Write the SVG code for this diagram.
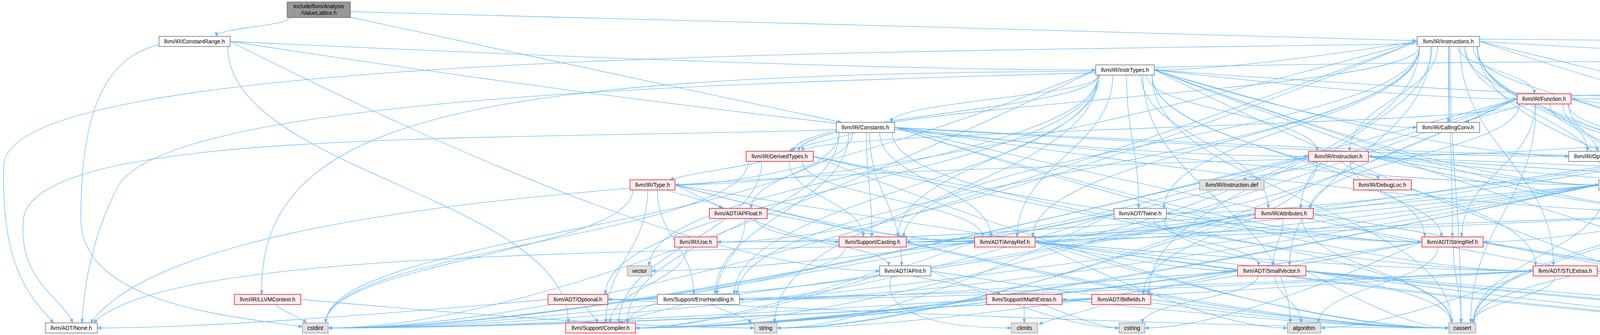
<svg xmlns="http://www.w3.org/2000/svg" width="6501" height="857" viewBox="0 0 6501 857">
<style>
.e path{fill:none;stroke:#63B8FF;stroke-width:1.3;marker-end:url(#ah)}
.nd rect{stroke-width:1.4}
.w rect{fill:#FFFFFF;stroke:#666666}
.r rect{fill:#FFF0F0;stroke:#FF0000}
.x rect{fill:#E0E0E0;stroke:#999999}
.root rect{fill:#999999;stroke:#666666}
text{font-family:"Liberation Sans",Arial,Helvetica,sans-serif;font-size:14px;text-anchor:middle;fill:#000000}
</style>
<defs>
<marker id="ah" markerWidth="11" markerHeight="8" refX="10" refY="4" orient="auto" markerUnits="userSpaceOnUse"><path d="M0,0 L10,4 L0,8 z" fill="#63B8FF" stroke="#63B8FF" stroke-width="1"/></marker>
</defs>
<rect x="0" y="0" width="6501" height="857" fill="#FFFFFF"/>
<g id="edges" class="e">
<path d="M740,45 C740,67 554,71 554,93"/>
<path d="M897,30 C1500,45 3000,85 3626,104"/>
<path d="M897,44 C1300,130 1800,240 2154,313"/>
<path d="M589,106 Q1753,693 2252,693"/>
<path d="M589,106 Q2140,179 2805,179"/>
<path d="M589,106 Q2522,400 3350,400"/>
<path d="M583,119 C583,437 1455,508 1455,826"/>
<path d="M407,114 C260,150 207,300 207,560 C207,780 600,810 774,836"/>
<path d="M3634,119 C3634,338 2644,387 2644,606"/>
<path d="M3634,119 C3634,404 2940,468 2940,753"/>
<path d="M3628,112 C2200,135 30,135 10,420 C0,700 90,770 137,826"/>
<path d="M3738,119 C3738,371 3977,428 3977,680"/>
<path d="M3663,119 C3663,371 3301,428 3301,680"/>
<path d="M3709,119 C3709,338 3718,387 3718,606"/>
<path d="M3634,119 C3634,305 2980,347 2980,533"/>
<path d="M3782,119 C3782,404 5161,468 5161,753"/>
<path d="M3788,100 C5000,110 6480,120 6492,300 C6500,600 6450,780 5891,836"/>
<path d="M3666,119 C3666,305 3330,347 3330,533"/>
<path d="M3788,106 Q4443,326 4723,326"/>
<path d="M3708,119 C3708,206 3708,226 3708,313"/>
<path d="M3788,106 Q5032,179 5565,179"/>
<path d="M3771,119 C3771,240 4276,266 4276,387"/>
<path d="M3634,119 C3634,240 2045,266 2045,387"/>
<path d="M3732,119 C3732,173 3928,186 3928,240"/>
<path d="M3628,106 Q3157,179 2955,179"/>
<path d="M3680,119 C3680,240 3455,266 3455,387"/>
<path d="M3748,119 C3748,240 4064,266 4064,387"/>
<path d="M3628,106 Q2298,473 1728,473"/>
<path d="M3628,106 Q2374,619 1836,619"/>
<path d="M3752,119 C3752,272 4106,307 4106,460"/>
<path d="M3781,119 C3781,305 4383,347 4383,533"/>
<path d="M3788,106 Q5254,473 5882,473"/>
<path d="M3634,119 C3634,338 2314,387 2314,606"/>
<path d="M3634,119 C3634,404 1887,468 1887,753"/>
<path d="M3712,119 C3712,437 3740,508 3740,826"/>
<path d="M3782,119 C3782,437 5411,508 5411,826"/>
<path d="M3628,106 Q1676,839 840,839"/>
<path d="M3782,119 C3782,437 4886,508 4886,826"/>
<path d="M2226,339 C2226,492 2308,527 2308,680"/>
<path d="M2183,339 C2183,426 1923,446 1923,533"/>
<path d="M2252,339 C2252,459 2537,486 2537,606"/>
<path d="M2141,332 C1200,360 90,330 60,560 C45,720 160,760 186,826"/>
<path d="M2290,326 Q3435,693 3925,693"/>
<path d="M2290,326 Q3235,619 3640,619"/>
<path d="M2290,326 Q3674,400 4267,400"/>
<path d="M2190,339 C2150,355 2050,370 2020,387"/>
<path d="M2290,326 Q3498,400 4016,400"/>
<path d="M2290,326 Q3552,473 4093,473"/>
<path d="M2290,326 Q3751,546 4377,546"/>
<path d="M2218,339 C2218,459 2232,486 2232,606"/>
<path d="M2148,339 C2148,558 1606,607 1606,826"/>
<path d="M2173,339 C2173,525 1831,567 1831,753"/>
<path d="M2284,339 C2284,558 3716,607 3716,826"/>
<path d="M2290,326 Q4470,839 5404,839"/>
<path d="M2148,339 C2148,558 834,607 834,826"/>
<path d="M2849,192 C2849,378 2604,420 2604,606"/>
<path d="M2805,186 C1800,215 420,250 300,480 C230,620 215,740 210,826"/>
<path d="M2811,192 C2811,444 1550,501 1550,753"/>
<path d="M2949,192 C2949,412 3931,460 3931,680"/>
<path d="M2955,179 Q3990,253 4433,253"/>
<path d="M2949,192 C2949,378 3647,420 3647,606"/>
<path d="M2884,192 C2884,345 2915,380 2915,533"/>
<path d="M2955,172 C4500,140 6420,150 6444,320 C6460,600 6400,790 5891,834"/>
<path d="M2921,192 C2921,345 3247,380 3247,533"/>
<path d="M2955,179 Q3425,326 3627,326"/>
<path d="M2814,192 C2814,246 2282,259 2282,313"/>
<path d="M2811,192 C2811,280 2032,299 2032,387"/>
<path d="M2955,179 Q3605,253 3884,253"/>
<path d="M2935,192 C2935,280 3372,299 3372,387"/>
<path d="M2805,182 C1200,190 660,300 670,753"/>
<path d="M2955,179 Q3698,400 4016,400"/>
<path d="M2805,179 Q2051,473 1728,473"/>
<path d="M2955,179 Q3752,473 4093,473"/>
<path d="M2955,179 Q3950,546 4377,546"/>
<path d="M2815,192 C2815,378 2299,420 2299,606"/>
<path d="M2811,192 C2811,444 1880,501 1880,753"/>
<path d="M2926,192 C2926,477 3303,541 3303,826"/>
<path d="M2949,192 C2949,477 3716,541 3716,826"/>
<path d="M2955,179 Q4669,839 5404,839"/>
<path d="M2805,179 Q1430,839 840,839"/>
<path d="M2955,179 Q4302,839 4879,839"/>
<path d="M2811,192 C2811,477 1983,541 1983,826"/>
<path d="M2811,192 C2811,412 1662,460 1662,680"/>
<path d="M5581,192 C5581,444 5267,501 5267,753"/>
<path d="M5638,192 C5638,477 5778,541 5778,826"/>
<path d="M5565,179 Q5083,326 4877,326"/>
<path d="M5565,179 Q4485,253 4022,253"/>
<path d="M5565,179 Q4817,546 4497,546"/>
<path d="M5565,179 Q3294,619 2320,619"/>
<path d="M5571,192 C5571,477 3772,541 3772,826"/>
<path d="M5602,192 C5602,477 5458,541 5458,826"/>
<path d="M5571,192 C5571,477 4944,541 4944,826"/>
<path d="M4014,266 C4014,353 4505,373 4505,460"/>
<path d="M4022,246 C5000,200 6380,170 6394,350 C6410,620 6350,800 5891,832"/>
<path d="M3930,266 C3930,419 3742,453 3742,606"/>
<path d="M3884,253 Q3255,546 2986,546"/>
<path d="M3890,266 C3890,386 3355,413 3355,533"/>
<path d="M4022,253 Q4513,326 4723,326"/>
<path d="M3915,266 C3870,280 3790,295 3750,313"/>
<path d="M3890,266 C3890,320 2055,333 2055,387"/>
<path d="M3968,266 C3968,320 4089,333 4089,387"/>
<path d="M4022,253 Q4688,473 4974,473"/>
<path d="M4001,266 C4001,386 4389,413 4389,533"/>
<path d="M3884,253 Q2789,619 2320,619"/>
<path d="M3884,253 Q2304,839 1627,839"/>
<path d="M3932,266 C3932,518 3765,574 3765,826"/>
<path d="M4016,266 C4016,518 5411,574 5411,826"/>
<path d="M3884,253 Q1753,839 840,839"/>
<path d="M3884,253 Q2558,839 1989,839"/>
<path d="M4586,266 C4586,485 5175,534 5175,753"/>
<path d="M4555,266 C4555,518 4886,574 4886,826"/>
<path d="M4723,326 Q3507,546 2986,546"/>
<path d="M4777,339 C4777,393 4589,406 4589,460"/>
<path d="M4843,339 C4843,525 5185,567 5185,753"/>
<path d="M4877,330 C5500,300 6330,280 6344,450 C6360,650 6300,810 5891,830"/>
<path d="M4723,326 Q3869,400 3503,400"/>
<path d="M4829,339 C4829,393 5059,406 5059,460"/>
<path d="M4764,339 C4764,426 4473,446 4473,533"/>
<path d="M4723,326 Q2556,839 1627,839"/>
<path d="M4729,339 C4729,558 3772,607 3772,826"/>
<path d="M4864,339 C4864,558 5411,607 5411,826"/>
<path d="M4812,339 C4812,558 4903,607 4903,826"/>
<path d="M2054,413 C2054,500 2515,519 2515,606"/>
<path d="M2082,400 Q3372,693 3925,693"/>
<path d="M2082,400 Q3173,619 3640,619"/>
<path d="M1950,413 C1880,430 1760,445 1715,460"/>
<path d="M2020,413 C2020,500 2210,519 2210,606"/>
<path d="M1950,413 C1950,599 1584,640 1584,826"/>
<path d="M2082,400 Q3221,839 3709,839"/>
<path d="M1916,413 C1916,599 834,640 834,826"/>
<path d="M3350,400 Q2860,619 2650,619"/>
<path d="M3371,413 C3371,566 2927,600 2927,753"/>
<path d="M3350,406 C2300,440 500,460 232,826"/>
<path d="M3456,413 C3456,500 3690,519 3690,606"/>
<path d="M3503,400 Q4190,473 4485,473"/>
<path d="M3438,413 C3438,434 3528,439 3528,460"/>
<path d="M3503,400 Q4533,473 4974,473"/>
<path d="M3503,400 Q3916,473 4093,473"/>
<path d="M3503,400 Q4115,546 4377,546"/>
<path d="M3503,400 Q5168,473 5882,473"/>
<path d="M3350,400 Q2629,619 2320,619"/>
<path d="M3350,400 Q1593,839 840,839"/>
<path d="M3400,413 C3380,430 3220,445 3181,460"/>
<path d="M4109,413 C4109,434 4145,439 4145,460"/>
<path d="M4320,413 C4320,434 4169,439 4169,460"/>
<path d="M4349,413 C4349,467 4427,479 4427,533"/>
<path d="M4267,400 Q2904,619 2320,619"/>
<path d="M1706,486 C1750,500 1820,515 1850,533"/>
<path d="M1728,473 Q2265,619 2495,619"/>
<path d="M1728,473 Q2022,619 2148,619"/>
<path d="M1658,486 C1658,639 1551,673 1551,826"/>
<path d="M1683,486 C1683,606 1776,633 1776,753"/>
<path d="M1728,473 Q3115,839 3709,839"/>
<path d="M1620,486 C1620,639 834,673 834,826"/>
<path d="M1728,473 Q3934,839 4879,839"/>
<path d="M4093,473 Q3083,619 2650,619"/>
<path d="M4207,473 Q4871,766 5155,766"/>
<path d="M4207,473 Q5253,839 5701,839"/>
<path d="M4093,473 Q2513,619 1836,619"/>
<path d="M4179,486 C4230,500 4370,515 4408,533"/>
<path d="M4093,473 Q2852,619 2320,619"/>
<path d="M4093,473 Q2367,839 1627,839"/>
<path d="M4093,473 Q2553,766 1893,766"/>
<path d="M4109,486 C4109,639 3772,673 3772,826"/>
<path d="M4207,473 Q5045,839 5404,839"/>
<path d="M4093,473 Q1816,839 840,839"/>
<path d="M4201,486 C4201,639 4886,673 4886,826"/>
<path d="M5123,486 C5123,639 5420,673 5420,826"/>
<path d="M5978,486 C5978,639 5469,673 5469,826"/>
<path d="M1933,559 C1933,613 2275,626 2275,680"/>
<path d="M1964,546 Q2336,619 2495,619"/>
<path d="M1908,559 C1908,646 1836,666 1836,753"/>
<path d="M2953,559 C2953,613 3222,626 3222,680"/>
<path d="M2986,546 Q3444,619 3640,619"/>
<path d="M2852,546 Q2181,766 1893,766"/>
<path d="M2980,559 C2980,679 3716,706 3716,826"/>
<path d="M2852,546 Q1444,839 840,839"/>
<path d="M2852,546 Q2248,839 1989,839"/>
<path d="M3213,546 Q2819,619 2650,619"/>
<path d="M3213,546 Q2053,766 1556,766"/>
<path d="M3285,559 C3285,613 3259,626 3259,680"/>
<path d="M3362,546 Q3557,619 3640,619"/>
<path d="M3334,559 C3334,679 3716,706 3716,826"/>
<path d="M3213,546 Q1552,839 840,839"/>
<path d="M3213,546 Q2356,839 1989,839"/>
<path d="M3362,546 Q4999,839 5701,839"/>
<path d="M4497,546 Q5340,839 5701,839"/>
<path d="M4377,546 Q3971,619 3797,619"/>
<path d="M4377,546 Q2598,619 1836,619"/>
<path d="M4377,546 Q2937,619 2320,619"/>
<path d="M4383,559 C4383,679 3772,706 3772,826"/>
<path d="M4485,559 C4485,679 4895,706 4895,826"/>
<path d="M1758,632 C1758,719 1562,739 1562,826"/>
<path d="M2164,632 C2164,719 1608,739 1608,826"/>
<path d="M2320,619 Q3292,839 3709,839"/>
<path d="M2495,622 C1600,650 420,640 240,826"/>
<path d="M2650,619 Q3013,693 3168,693"/>
<path d="M2650,619 Q3542,693 3925,693"/>
<path d="M2495,619 Q1887,839 1627,839"/>
<path d="M2650,619 Q3102,839 3296,839"/>
<path d="M2650,619 Q3391,839 3709,839"/>
<path d="M2650,619 Q4578,839 5404,839"/>
<path d="M2650,619 Q4210,839 4879,839"/>
<path d="M2495,619 Q1916,693 1668,693"/>
<path d="M3797,619 Q5130,839 5701,839"/>
<path d="M3640,619 Q2231,839 1627,839"/>
<path d="M3681,632 C3681,719 3375,739 3375,826"/>
<path d="M3721,632 C3721,719 3741,739 3741,826"/>
<path d="M3797,619 Q4922,839 5404,839"/>
<path d="M3640,619 Q3144,839 2931,839"/>
<path d="M3640,619 Q2484,839 1989,839"/>
<path d="M2252,693 Q1815,839 1627,839"/>
<path d="M2338,706 C2400,720 2520,735 2562,753"/>
<path d="M2383,693 Q3311,839 3709,839"/>
<path d="M2283,706 C2250,800 2400,839 2589,839"/>
<path d="M2383,693 Q2720,839 2865,839"/>
<path d="M3343,693 Q4994,839 5701,839"/>
<path d="M3168,693 Q2089,839 1627,839"/>
<path d="M3168,693 Q2276,766 1893,766"/>
<path d="M3168,693 Q2854,766 2719,766"/>
<path d="M3264,706 C3264,760 3331,772 3331,826"/>
<path d="M3343,693 Q3599,839 3709,839"/>
<path d="M3343,693 Q4786,839 5404,839"/>
<path d="M3220,706 C3220,760 2925,772 2925,826"/>
<path d="M3343,693 Q4418,839 4879,839"/>
<path d="M3925,693 Q2267,766 1556,766"/>
<path d="M4089,693 Q4835,766 5155,766"/>
<path d="M4089,693 Q5217,839 5701,839"/>
<path d="M3925,693 Q2503,766 1893,766"/>
<path d="M3925,693 Q3544,839 3381,839"/>
<path d="M3981,706 C3981,760 3770,772 3770,826"/>
<path d="M4089,693 Q5009,839 5404,839"/>
<path d="M3925,693 Q1766,839 840,839"/>
<path d="M4089,693 Q4642,839 4879,839"/>
<path d="M705,779 C720,795 765,810 785,826"/>
<path d="M770,766 Q1583,839 1931,839"/>
<path d="M1403,766 Q595,839 249,839"/>
<path d="M1497,779 C1505,800 1525,810 1530,826"/>
<path d="M1556,766 Q3063,839 3709,839"/>
<path d="M1748,779 C1700,795 1620,810 1585,826"/>
<path d="M1820,779 C1850,795 1905,810 1925,826"/>
<path d="M2525,766 Q1896,839 1627,839"/>
<path d="M2719,766 Q3412,839 3709,839"/>
<path d="M2622,779 L2622,826"/>
<path d="M2525,766 Q1346,839 840,839"/>
<path d="M2669,779 C2750,810 2820,839 2865,839"/>
<path d="M2946,766 Q3480,839 3709,839"/>
<path d="M2827,779 C2770,800 2690,815 2660,830"/>
<path d="M2795,766 Q1427,839 840,839"/>
<path d="M5301,766 Q5581,839 5701,839"/>
<path d="M5263,779 C5320,800 5380,815 5404,832"/>
<path d="M5177,779 C5100,800 4990,812 4950,830"/>
</g>
<g id="n_ValueLattice" class="nd root"><rect x="735" y="5" width="162" height="40"/><text x="816" y="21">include/llvm/Analysis</text><text x="816" y="38">/ValueLattice.h</text></g>
<g id="n_ConstantRange" class="nd w"><rect x="407" y="93" width="182" height="26"/><text x="498" y="111">llvm/IR/ConstantRange.h</text></g>
<g id="n_Instructions" class="nd w"><rect x="3628" y="93" width="160" height="26"/><text x="3708" y="111">llvm/IR/Instructions.h</text></g>
<g id="n_InstrTypes" class="nd w"><rect x="2805" y="166" width="150" height="26"/><text x="2880" y="184">llvm/IR/InstrTypes.h</text></g>
<g id="n_CFG" class="nd r"><rect x="5565" y="166" width="110" height="26"/><text x="5620" y="184">llvm/IR/CFG.h</text></g>
<g id="n_Function" class="nd r"><rect x="3884" y="240" width="138" height="26"/><text x="3953" y="258">llvm/IR/Function.h</text></g>
<g id="n_StringMap" class="nd r"><rect x="4433" y="240" width="164" height="26"/><text x="4515" y="258">llvm/ADT/StringMap.h</text></g>
<g id="n_Constants" class="nd w"><rect x="2141" y="313" width="149" height="26"/><text x="2215.5" y="331">llvm/IR/Constants.h</text></g>
<g id="n_CallingConv" class="nd w"><rect x="3627" y="313" width="161" height="26"/><text x="3707.5" y="331">llvm/IR/CallingConv.h</text></g>
<g id="n_BasicBlock" class="nd r"><rect x="4723" y="313" width="154" height="26"/><text x="4800" y="331">llvm/IR/BasicBlock.h</text></g>
<g id="n_DerivedTypes" class="nd r"><rect x="1910" y="387" width="172" height="26"/><text x="1996" y="405">llvm/IR/DerivedTypes.h</text></g>
<g id="n_Instruction" class="nd r"><rect x="3350" y="387" width="153" height="26"/><text x="3426.5" y="405">llvm/IR/Instruction.h</text></g>
<g id="n_OperandTraits" class="nd w"><rect x="4016" y="387" width="175" height="26"/><text x="4103.5" y="405">llvm/IR/OperandTraits.h</text></g>
<g id="n_Constant" class="nd w"><rect x="4267" y="387" width="143" height="26"/><text x="4338.5" y="405">llvm/IR/Constant.h</text></g>
<g id="n_Type" class="nd r"><rect x="1613" y="460" width="115" height="26"/><text x="1670.5" y="478">llvm/IR/Type.h</text></g>
<g id="n_InstructionDef" class="nd x"><rect x="3071" y="460" width="165" height="26"/><text x="3153.5" y="478">llvm/IR/Instruction.def</text></g>
<g id="n_DebugLoc" class="nd r"><rect x="3465" y="460" width="148" height="26"/><text x="3539" y="478">llvm/IR/DebugLoc.h</text></g>
<g id="n_User" class="nd w"><rect x="4093" y="460" width="114" height="26"/><text x="4150" y="478">llvm/IR/User.h</text></g>
<g id="n_ilist_node" class="nd r"><rect x="4485" y="460" width="162" height="26"/><text x="4566" y="478">llvm/ADT/ilist_node.h</text></g>
<g id="n_SymbolTableListTraits" class="nd r"><rect x="4974" y="460" width="227" height="26"/><text x="5087.5" y="478">llvm/IR/SymbolTableListTraits.h</text></g>
<g id="n_AtomicOrdering" class="nd w"><rect x="5882" y="460" width="223" height="26"/><text x="5993.5" y="478">llvm/Support/AtomicOrdering.h</text></g>
<g id="n_APFloat" class="nd r"><rect x="1816" y="533" width="148" height="26"/><text x="1890" y="551">llvm/ADT/APFloat.h</text></g>
<g id="n_Twine" class="nd w"><rect x="2852" y="533" width="134" height="26"/><text x="2919" y="551">llvm/ADT/Twine.h</text></g>
<g id="n_Attributes" class="nd r"><rect x="3213" y="533" width="149" height="26"/><text x="3287.5" y="551">llvm/IR/Attributes.h</text></g>
<g id="n_Value" class="nd r"><rect x="4377" y="533" width="120" height="26"/><text x="4437" y="551">llvm/IR/Value.h</text></g>
<g id="n_Use" class="nd r"><rect x="1727" y="606" width="109" height="26"/><text x="1781.5" y="624">llvm/IR/Use.h</text></g>
<g id="n_Casting" class="nd r"><rect x="2148" y="606" width="172" height="26"/><text x="2234" y="624">llvm/Support/Casting.h</text></g>
<g id="n_ArrayRef" class="nd r"><rect x="2495" y="606" width="155" height="26"/><text x="2572.5" y="624">llvm/ADT/ArrayRef.h</text></g>
<g id="n_StringRef" class="nd r"><rect x="3640" y="606" width="157" height="26"/><text x="3718.5" y="624">llvm/ADT/StringRef.h</text></g>
<g id="n_vector" class="nd x"><rect x="1606" y="680" width="62" height="26"/><text x="1637" y="698">vector</text></g>
<g id="n_APInt" class="nd w"><rect x="2252" y="680" width="131" height="26"/><text x="2317.5" y="698">llvm/ADT/APInt.h</text></g>
<g id="n_SmallVector" class="nd r"><rect x="3168" y="680" width="175" height="26"/><text x="3255.5" y="698">llvm/ADT/SmallVector.h</text></g>
<g id="n_STLExtras" class="nd r"><rect x="3925" y="680" width="164" height="26"/><text x="4007" y="698">llvm/ADT/STLExtras.h</text></g>
<g id="n_LLVMContext" class="nd r"><rect x="600" y="753" width="170" height="26"/><text x="685" y="771">llvm/IR/LLVMContext.h</text></g>
<g id="n_Optional" class="nd r"><rect x="1403" y="753" width="153" height="26"/><text x="1479.5" y="771">llvm/ADT/Optional.h</text></g>
<g id="n_ErrorHandling" class="nd w"><rect x="1683" y="753" width="210" height="26"/><text x="1788" y="771">llvm/Support/ErrorHandling.h</text></g>
<g id="n_MathExtras" class="nd r"><rect x="2525" y="753" width="194" height="26"/><text x="2622" y="771">llvm/Support/MathExtras.h</text></g>
<g id="n_Bitfields" class="nd r"><rect x="2795" y="753" width="151" height="26"/><text x="2870.5" y="771">llvm/ADT/Bitfields.h</text></g>
<g id="n_iteratorh" class="nd r"><rect x="5155" y="753" width="146" height="26"/><text x="5228" y="771">llvm/ADT/iterator.h</text></g>
<g id="n_None" class="nd w"><rect x="116" y="826" width="133" height="26"/><text x="182.5" y="844">llvm/ADT/None.h</text></g>
<g id="n_cstdint" class="nd x"><rect x="774" y="826" width="66" height="26"/><text x="807" y="844">cstdint</text></g>
<g id="n_Compiler" class="nd r"><rect x="1448" y="826" width="179" height="26"/><text x="1537.5" y="844">llvm/Support/Compiler.h</text></g>
<g id="n_string" class="nd x"><rect x="1931" y="826" width="58" height="26"/><text x="1960" y="844">string</text></g>
<g id="n_climits" class="nd x"><rect x="2589" y="826" width="67" height="26"/><text x="2622.5" y="844">climits</text></g>
<g id="n_cstring" class="nd x"><rect x="2865" y="826" width="66" height="26"/><text x="2898" y="844">cstring</text></g>
<g id="n_algorithm" class="nd x"><rect x="3296" y="826" width="85" height="26"/><text x="3338.5" y="844">algorithm</text></g>
<g id="n_cassert" class="nd x"><rect x="3709" y="826" width="69" height="26"/><text x="3743.5" y="844">cassert</text></g>
<g id="n_iterator" class="nd x"><rect x="4879" y="826" width="71" height="26"/><text x="4914.5" y="844">iterator</text></g>
<g id="n_cstddef" class="nd x"><rect x="5404" y="826" width="71" height="26"/><text x="5439.5" y="844">cstddef</text></g>
<g id="n_iterator_range" class="nd r"><rect x="5701" y="826" width="190" height="26"/><text x="5796" y="844">llvm/ADT/iterator_range.h</text></g>
</svg>
